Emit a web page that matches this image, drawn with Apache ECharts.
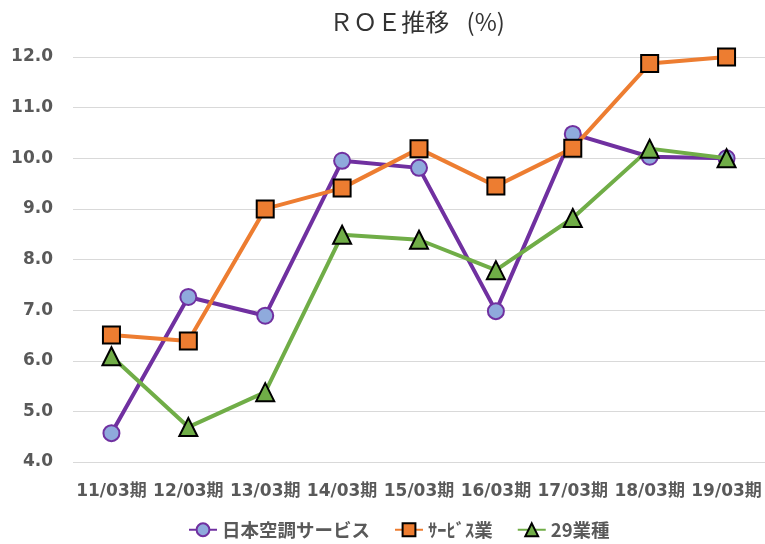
<!DOCTYPE html>
<html>
<head>
<meta charset="utf-8">
<script src="https://cdn.jsdelivr.net/npm/echarts@6/dist/echarts.min.js"></script>
<style>
  html, body { margin: 0; padding: 0; background: #fff; }
  #chart { width: 765px; height: 544px; }
</style>
</head>
<body>
<div id="chart"></div>
<script>
const categories = ["11/03期", "12/03期", "13/03期", "14/03期", "15/03期", "16/03期", "17/03期", "18/03期", "19/03期"];
const nihonKucho = [4.57, 7.26, 6.89, 9.95, 9.81, 6.98, 10.48, 10.03, 10.0];
const serviceGyo = [6.51, 6.39, 9.0, 9.41, 10.19, 9.45, 10.2, 11.87, 12.0];
const gyoshu29 = [6.09, 4.69, 5.38, 8.49, 8.39, 7.79, 8.82, 10.19, 10.0];
const seriesNames = ["日本空調サービス", "ｻｰﾋﾞｽ業", "29業種"];

const myChart = echarts.init(document.getElementById("chart"));
const labelFont = "DejaVu Sans, Noto Sans CJK JP";

const option = {
  animation: false,
  title: {
    text: "ＲＯＥ推移\u2002 (%)",
    left: 412,
    textAlign: "center",
    top: 5,
    textStyle: {
      fontFamily: "Noto Sans CJK JP",
      fontSize: 24,
      fontWeight: "normal",
      color: "#333"
    }
  },
  legend: {
    bottom: 0,
    left: 183,
    itemGap: 24,
    itemWidth: 28,
    itemHeight: 16,
    data: seriesNames,
    textStyle: {
      fontFamily: "Noto Sans CJK JP",
      fontSize: 18.5,
      fontWeight: "bold",
      color: "#595959"
    }
  },
  grid: {
    left: 73,
    right: 0,
    top: 57,
    bottom: 82
  },
  xAxis: {
    type: "category",
    data: categories,
    axisLine: { show: false },
    axisTick: { show: false },
    axisLabel: {
      interval: 0,
      margin: 21,
      fontFamily: labelFont,
      fontSize: 17,
      fontWeight: "bold",
      color: "#595959"
    }
  },
  yAxis: {
    type: "value",
    min: 4,
    max: 12,
    interval: 1,
    axisLine: { show: false },
    axisTick: { show: false },
    splitLine: { lineStyle: { color: "#d9d9d9", width: 1 } },
    axisLabel: {
      margin: 20,
      formatter: v => v.toFixed(1),
      fontFamily: "DejaVu Sans",
      fontSize: 17,
      fontWeight: "bold",
      color: "#595959"
    }
  },
  series: [
    {
      name: seriesNames[0],
      type: "line",
      data: nihonKucho,
      symbol: "circle",
      symbolSize: 16,
      lineStyle: { color: "#7030A0", width: 4 },
      itemStyle: { color: "#8FAADC", borderColor: "#7030A0", borderWidth: 2 },
      z: 3
    },
    {
      name: seriesNames[1],
      type: "line",
      data: serviceGyo,
      symbol: "rect",
      symbolSize: 17,
      lineStyle: { color: "#ED7D31", width: 4 },
      itemStyle: { color: "#ED7D31", borderColor: "#000", borderWidth: 2 },
      z: 4
    },
    {
      name: seriesNames[2],
      type: "line",
      data: gyoshu29,
      symbol: "triangle",
      symbolSize: 18,
      lineStyle: { color: "#70AD47", width: 4 },
      itemStyle: { color: "#70AD47", borderColor: "#000", borderWidth: 2 },
      z: 5
    }
  ]
};

myChart.setOption(option);
</script>
</body>
</html>
